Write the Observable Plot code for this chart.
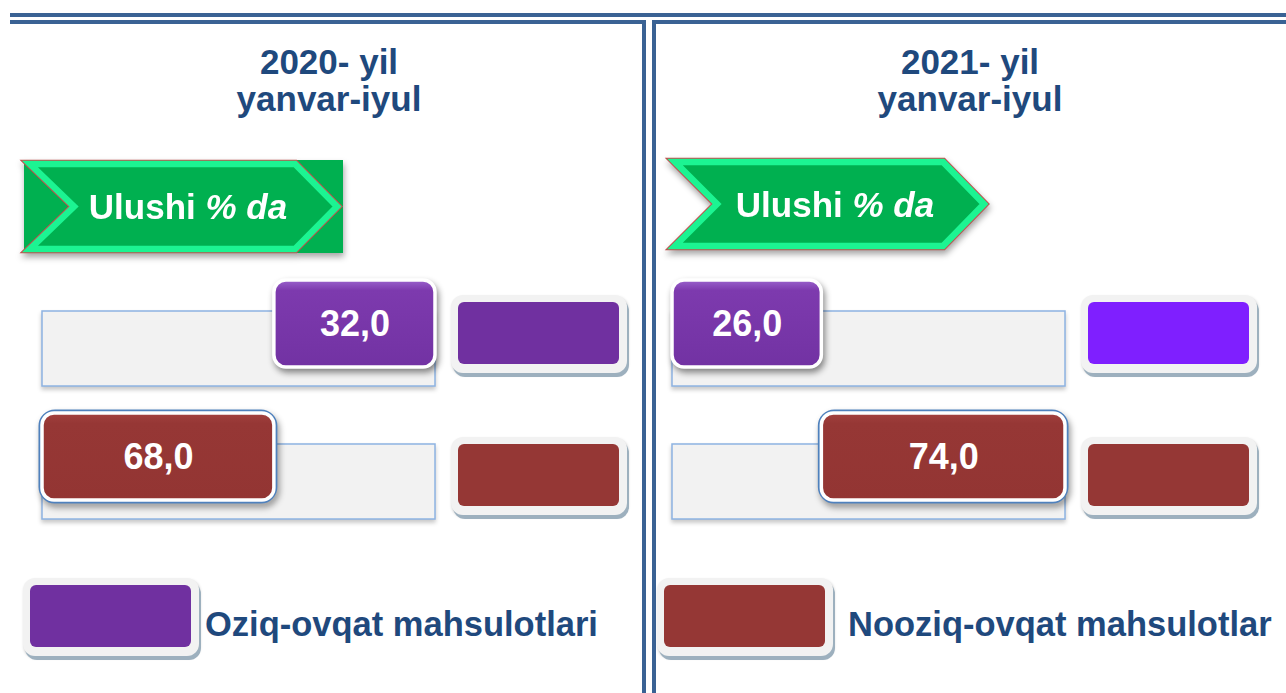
<!DOCTYPE html>
<html>
<head>
<meta charset="utf-8">
<script src="https://cdn.jsdelivr.net/npm/d3@7"></script>
<script src="https://cdn.jsdelivr.net/npm/@observablehq/plot@0.6"></script>
<style>
  html, body { margin: 0; padding: 0; background: #ffffff; }
  #root { position: relative; width: 1286px; height: 693px; overflow: hidden;
          font-family: "Liberation Sans", Arial, sans-serif; }
  .rule { position: absolute; background: #3a6294; }
  .title { position: absolute; text-align: center; color: #1f497d; font-weight: bold;
           font-size: 35px; line-height: 37px; white-space: nowrap; }
  .legtext { position: absolute; color: #1f497d; font-weight: bold; font-size: 34.5px;
             line-height: 40px; white-space: nowrap; }
  .sw { position: absolute; background: #f2f2f2; border-radius: 12px;
        box-shadow: 2px 4px 0 #9db0be, 1px 2px 3px rgba(0,0,0,0.25); }
  .sw > div { position: absolute; left: 7px; right: 8px; top: 7px; bottom: 9px; border-radius: 6px; }
  .panel { position: absolute; }
  .panel svg { overflow: visible; }
  #deco { position: absolute; left: 0; top: 0; }
</style>
</head>
<body>
<div id="root">
  <svg width="0" height="0" style="position:absolute">
    <defs>
      <linearGradient id="gPurple" x1="0" y1="0" x2="0" y2="1">
        <stop offset="0" stop-color="#9a62cc"/>
        <stop offset="0.12" stop-color="#7d3aae"/>
        <stop offset="1" stop-color="#7232a3"/>
      </linearGradient>
      <linearGradient id="gBrown" x1="0" y1="0" x2="0" y2="1">
        <stop offset="0" stop-color="#a2413f"/>
        <stop offset="0.12" stop-color="#963735"/>
        <stop offset="1" stop-color="#933533"/>
      </linearGradient>
    </defs>
  </svg>
  <div class="rule" style="left:10px;top:13px;width:1276px;height:3.5px"></div>
  <div class="rule" style="left:10px;top:20px;width:636px;height:3.5px"></div>
  <div class="rule" style="left:642px;top:20px;width:4px;height:673px"></div>
  <div class="rule" style="left:651.5px;top:20px;width:4px;height:673px"></div>
  <div class="rule" style="left:651.5px;top:20px;width:634.5px;height:3.5px"></div>
  <svg id="deco" width="1286" height="693"></svg>
</div>
<script>
// ---------------- data ----------------
const years = ["2020", "2021"];
const yearTitles = ["2020- yil", "2021- yil"];
const periodLabel = "yanvar-iyul";
const bannerLabel = ["Ulushi ", "% da"];
const categories = ["Oziq-ovqat mahsulotlari", "Nooziq-ovqat mahsulotlar"];
const shares2020 = [32.0, 68.0];
const shares2021 = [26.0, 74.0];
// which category's badge is anchored at the start of the track, per year
const leadCategory2020 = "Nooziq-ovqat mahsulotlar";
const leadCategory2021 = "Oziq-ovqat mahsulotlari";

// ---------------- styles ----------------
const swatchColors = {
  "2020": ["#7030a0", "#953735"],
  "2021": ["#7f1fff", "#953735"]
};
const swatchShift = [-14, -4];
const legendColors = ["#7030a0", "#953735"];
const X_MIN = -50, X_MAX = 150;  // track extent on the share axis
const fmt = d3.formatLocale({decimal: ",", thousands: " ", grouping: [3], currency: ["", ""]}).format(".1f");

const root = document.getElementById("root");

function el(tag, cls, style, html) {
  const e = document.createElement(tag);
  if (cls) e.className = cls;
  if (style) e.setAttribute("style", style);
  if (html != null) e.innerHTML = html;
  root.appendChild(e);
  return e;
}

// titles
el("div", "title", "left:0;width:658px;top:43px", yearTitles[0] + "<br>" + periodLabel);
el("div", "title", "left:654px;width:632px;top:43px", yearTitles[1] + "<br>" + periodLabel);

// banners
const deco = d3.select("#deco");
function banner(pts, tx, ty, withRect, rect) {
  const g = deco.append("g").style("filter", "drop-shadow(1px 4px 3px rgba(0,0,0,0.35))");
  if (withRect) g.append("rect").attr("x", rect[0]).attr("y", rect[1]).attr("width", rect[2]).attr("height", rect[3]).attr("fill", "#00b050");
  const p = pts.map(d => d.join(",")).join(" ");
  g.append("polygon").attr("points", p).attr("fill", "none").attr("stroke", "#c0504d").attr("stroke-width", 8.5).attr("stroke-linejoin", "miter");
  g.append("polygon").attr("points", p).attr("fill", "#00b050").attr("stroke", "#1cf492").attr("stroke-width", 6.5).attr("stroke-linejoin", "miter");
  const t = g.append("text").attr("x", tx).attr("y", ty).attr("text-anchor", "middle")
    .attr("fill", "white").attr("font-family", "Liberation Sans, Arial, sans-serif")
    .attr("font-weight", "bold").attr("font-size", 35);
  t.append("tspan").text(bannerLabel[0]);
  t.append("tspan").attr("font-style", "italic").text(bannerLabel[1]);
}
banner([[30,164],[295,164],[337,206.5],[295,249],[30,249],[74,206.5]], 188, 219, true, [24,160,319,93]);
banner([[675,162],[943,162],[984,204],[943,246],[675,246],[717,204]], 835, 216.5, false);

// ---------------- bar panels (Observable Plot) ----------------
function makePanel(year, shares, lead, left) {
  const rows = categories.map((c, i) => ({year, category: c, value: shares[i], lead: c === lead}));
  const x1 = d => d.lead ? X_MIN : 100 - d.value;
  const x2 = d => d.lead ? d.value : X_MAX;
  const isOziq = d => d.category === categories[0];
  const badgeDy = -25;
  const plot = Plot.plot({
    width: 420, height: 280,
    marginLeft: 10, marginRight: 17, marginTop: 51, marginBottom: 21,
    x: {domain: [X_MIN, X_MAX], axis: null},
    y: {type: "band", domain: categories, paddingInner: 0.436, paddingOuter: 0, round: false, axis: null},
    style: {fontFamily: "Liberation Sans, Arial, sans-serif", background: "transparent"},
    marks: [
      Plot.barX(rows, {y: "category", x1: () => X_MIN, x2: () => X_MAX,
        fill: "#f2f2f2", stroke: "#8db3e2", strokeWidth: 1.5}),
      Plot.barX(rows.filter(d => !isOziq(d)), {y: "category", x1, x2,
        fill: "none", stroke: "#4f81bd", strokeWidth: 7, rx: 13, insetTop: -6, insetBottom: -6, dy: badgeDy}),
      Plot.barX(rows.filter(isOziq), {y: "category", x1, x2,
        fill: "url(#gPurple)", stroke: "white", strokeWidth: 3.5, rx: 12, insetTop: -6, insetBottom: -6, dy: badgeDy}),
      Plot.barX(rows.filter(d => !isOziq(d)), {y: "category", x1, x2,
        fill: "url(#gBrown)", stroke: "white", strokeWidth: 3.5, rx: 12, insetTop: -6, insetBottom: -6, dy: badgeDy}),
      Plot.text(rows, {y: "category", x: d => (x1(d) + x2(d)) / 2, text: d => fmt(d.value),
        fill: "white", fontSize: 36, fontWeight: "bold", dy: badgeDy,
        fontFamily: "Liberation Sans, Arial, sans-serif"})
    ]
  });
  const wrap = document.createElement("div");
  wrap.className = "panel";
  wrap.style.left = left + "px";
  wrap.style.top = "260px";
  wrap.appendChild(plot);
  root.appendChild(wrap);
  const bars = plot.querySelectorAll('g[aria-label="bar"]');
  bars[0].style.filter = "drop-shadow(0px 3px 2px rgba(0,0,0,0.22))";
  bars[1].style.filter = "drop-shadow(2px 4px 3px rgba(0,0,0,0.4))";
  bars[2].style.filter = "drop-shadow(2px 4px 3px rgba(0,0,0,0.45))";

  // colour keys beside each track, aligned on the plot's y scale
  const y = plot.scale("y");
  categories.forEach((c, i) => {
    const cy = 260 + y.apply(c) + y.bandwidth / 2 + swatchShift[i];
    const sw = el("div", "sw", `left:${left + 419}px;top:${cy - 40}px;width:176px;height:78px`);
    const inner = document.createElement("div");
    inner.style.background = swatchColors[year][i];
    sw.appendChild(inner);
  });
}
makePanel(years[0], shares2020, leadCategory2020, 32);
makePanel(years[1], shares2021, leadCategory2021, 662);

// ---------------- legend ----------------
[[23, 205], [657, 848]].forEach(([sx, tx], i) => {
  const sw = el("div", "sw", `left:${sx}px;top:578px;width:176px;height:78px`);
  const inner = document.createElement("div");
  inner.style.background = legendColors[i];
  sw.appendChild(inner);
  el("div", "legtext", `left:${tx}px;top:604px`, categories[i]);
});
</script>
</body>
</html>
